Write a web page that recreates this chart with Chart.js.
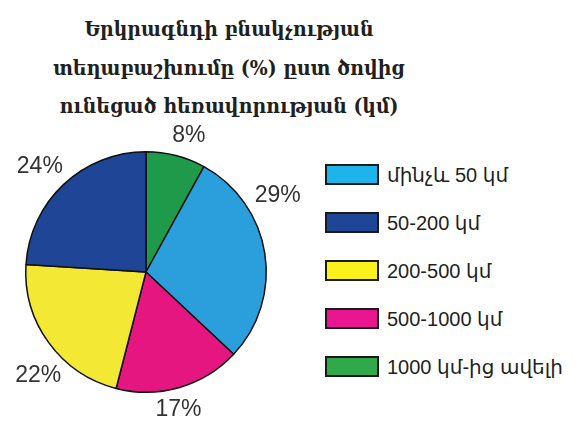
<!DOCTYPE html>
<html lang="hy">
<head>
    <meta charset="UTF-8">
    <title>Երկրագնդի բնակչության տեղաբաշխումը</title>
    <style>
        * {
            margin: 0;
            padding: 0;
            box-sizing: border-box;
        }

        body {
            width: 585px;
            height: 421px;
            background-color: #fff;
            position: relative;
            overflow: hidden;
        }

        .title {
            position: absolute;
            left: 0;
            top: 10px;
            width: 458px;
            text-align: center;
            font-family: 'DejaVu Serif Condensed', 'DejaVu Serif', serif;
            font-stretch: condensed;
            font-weight: bold;
            font-size: 21px;
            line-height: 38.5px;
            color: #231f20;
        }

        .chart-box {
            position: absolute;
            left: 0;
            top: 120px;
            width: 315px;
            height: 301px;
        }

        .legend {
            position: absolute;
            left: 325px;
            top: 164px;
            list-style: none;
        }

        .legend li {
            display: flex;
            align-items: center;
            height: 21px;
            margin-bottom: 27px;
            font-family: 'Liberation Sans', Arial, 'DejaVu Sans', sans-serif;
            font-size: 20px;
            color: #231f20;
            white-space: nowrap;
        }

        .legend .swatch {
            width: 54px;
            height: 21px;
            border: 2px solid #1a1a1a;
            margin-right: 8px;
        }
    </style>
</head>
<body>

    <div class="title">Երկրագնդի բնակչության<br>տեղաբաշխումը (%) ըստ ծովից<br>ունեցած հեռավորության (կմ)</div>

    <div class="chart-box">
        <canvas id="popChart"></canvas>
    </div>

    <ul class="legend" id="legend"></ul>

    <script src="https://cdn.jsdelivr.net/npm/chart.js"></script>
    <script>
        // slices go clockwise from 12 o'clock
        const categories = ['1000 կմ-ից ավելի', 'մինչև 50 կմ', '500-1000 կմ', '200-500 կմ', '50-200 կմ'];
        const shares = [8, 29, 17, 22, 24];
        const sliceColors = ['#1e9a4a', '#2a9fdc', '#e5167f', '#f3e934', '#1f4597'];
        const legendColors = ['#2fa94a', '#1db4ec', '#ea1690', '#fbf21c', '#1f4597'];
        // legend reads in this order
        const legendOrder = [1, 4, 3, 2, 0];
        // small angle nudges (deg) for the % labels
        const labelNudge = [3, -21, 3, -8, -2];

        const outsideLabels = {
            id: 'outsideLabels',
            afterDatasetsDraw(chart) {
                const ctx = chart.ctx;
                const meta = chart.getDatasetMeta(0);
                ctx.save();
                ctx.font = '23px "Liberation Sans", Arial, sans-serif';
                ctx.fillStyle = '#333';
                ctx.textAlign = 'center';
                ctx.textBaseline = 'middle';
                meta.data.forEach((arc, i) => {
                    const p = arc.getProps(['x', 'y', 'startAngle', 'endAngle', 'outerRadius'], true);
                    const mid = (p.startAngle + p.endAngle) / 2 + labelNudge[i] * Math.PI / 180;
                    const dist = p.outerRadius + 18 + 16 * Math.abs(Math.cos(mid));
                    ctx.fillText(shares[i] + '%', p.x + Math.cos(mid) * dist, p.y + Math.sin(mid) * dist);
                });
                ctx.restore();
            }
        };

        const popChart = new Chart(document.getElementById('popChart'), {
            type: 'pie',
            data: {
                labels: categories,
                datasets: [{
                    data: shares,
                    backgroundColor: sliceColors,
                    borderColor: '#111',
                    borderWidth: 1.5,
                    hoverOffset: 0
                }]
            },
            options: {
                responsive: true,
                maintainAspectRatio: false,
                animation: false,
                layout: {
                    padding: { left: 25, right: 48, top: 31, bottom: 28 }
                },
                plugins: {
                    legend: { display: false },
                    tooltip: { enabled: false }
                }
            },
            plugins: [outsideLabels]
        });

        // html legend built from the chart's own legend items
        const items = popChart.options.plugins.legend.labels.generateLabels(popChart);
        const legendEl = document.getElementById('legend');
        legendOrder.forEach(idx => {
            const item = items[idx];
            const li = document.createElement('li');
            const sw = document.createElement('span');
            sw.className = 'swatch';
            sw.style.backgroundColor = legendColors[idx];
            li.appendChild(sw);
            li.appendChild(document.createTextNode(item.text));
            legendEl.appendChild(li);
        });
    </script>
</body>
</html>
